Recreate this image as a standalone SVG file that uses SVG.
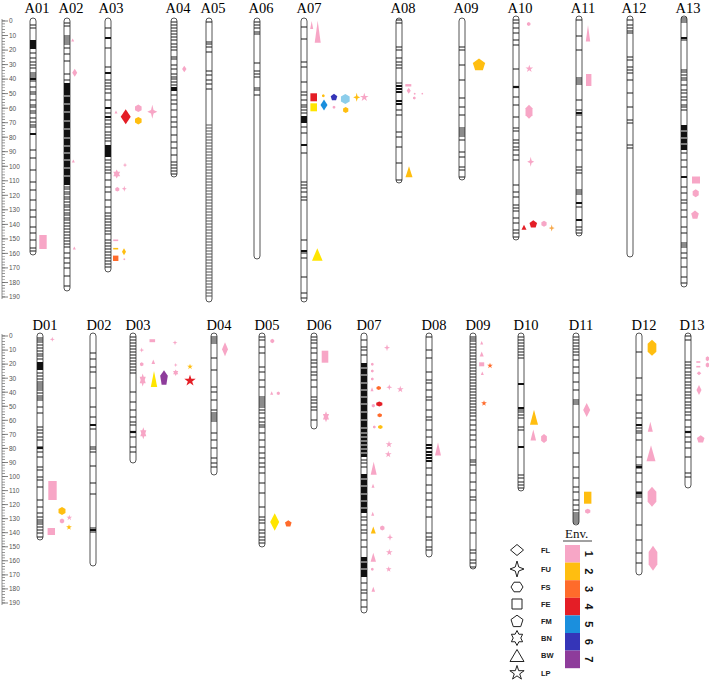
<svg xmlns="http://www.w3.org/2000/svg" xmlns:xlink="http://www.w3.org/1999/xlink" width="709" height="681" viewBox="0 0 709 681">
<style>
.ch{fill:#fff;stroke:#555;stroke-width:1}
.b{stroke:#1a1a1a;stroke-width:1.1;fill:none}
.g{stroke:#555;stroke-width:1.1;fill:none}
.t{stroke:#111;stroke-width:2.2;fill:none}
.w{stroke:#fff;stroke-width:0.9;fill:none}
.k{fill:#111}
.lb{font-family:"Liberation Serif",serif;font-size:14.5px;text-anchor:middle;fill:#000}
.ax{font-family:"Liberation Sans",sans-serif;font-size:6.5px;fill:#555}
.lg{font-family:"Liberation Sans",sans-serif;font-size:7.5px;font-weight:bold;fill:#222}
.num{font-family:"Liberation Sans",sans-serif;font-size:11px;font-weight:bold;fill:#111;text-anchor:middle}
.ol{fill:none;stroke:#222;stroke-width:1}
.c1{fill:#F7A6C6}.c2{fill:#FFBE10}.c3{fill:#FF6B2B}.c4{fill:#E41E26}.c5{fill:#1B8FDD}.c6{fill:#3535B8}.c7{fill:#8E3C9B}.cy{fill:#FFE500}.cl{fill:#8CCDEB}.co{fill:#F7A84A}
</style>
<defs>
<path id="dm" vector-effect="non-scaling-stroke" d="M0-1L1 0L0 1L-1 0Z"/>
<path id="fu" vector-effect="non-scaling-stroke" d="M0-1L0.25-0.25L1 0L0.25 0.25L0 1L-0.25 0.25L-1 0L-0.25-0.25Z"/>
<path id="hx" vector-effect="non-scaling-stroke" d="M0-1L0.87-0.5L0.87 0.5L0 1L-0.87 0.5L-0.87-0.5Z"/>
<path id="sq" vector-effect="non-scaling-stroke" d="M-1-1H1V1H-1Z"/>
<path id="pn" vector-effect="non-scaling-stroke" d="M0-1L0.95-0.31L0.59 0.81L-0.59 0.81L-0.95-0.31Z"/>
<path id="s6" vector-effect="non-scaling-stroke" d="M0-1L0.289-0.5L0.866-0.5L0.577 0L0.866 0.5L0.289 0.5L0 1L-0.289 0.5L-0.866 0.5L-0.577 0L-0.866-0.5L-0.289-0.5Z"/>
<path id="tr" vector-effect="non-scaling-stroke" d="M0-1L1 1L-1 1Z"/>
<path id="s5" vector-effect="non-scaling-stroke" d="M0-1L0.2245-0.309L0.951-0.309L0.363 0.118L0.588 0.809L0 0.382L-0.588 0.809L-0.363 0.118L-0.951-0.309L-0.2245-0.309Z"/>
</defs>
<rect width="709" height="681" fill="#fff"/>

<g id="axis-top">
<line x1="2" y1="19" x2="2" y2="299" stroke="#777" stroke-width="0.8"/>
<line x1="3.5" y1="20.6" x2="3.5" y2="298" stroke="#777" stroke-width="3" stroke-dasharray="0.7 2.205"/>
<path stroke="#666" stroke-width="0.8" d="M2 21h6M2 35.5h6M2 50.1h6M2 64.6h6M2 79.1h6M2 93.6h6M2 108.2h6M2 122.7h6M2 137.2h6M2 151.7h6M2 166.3h6M2 180.8h6M2 195.3h6M2 209.8h6M2 224.4h6M2 238.9h6M2 253.4h6M2 267.9h6M2 282.5h6M2 297h6"/>
<g class="ax">
<text x="9" y="23.3">0</text><text x="9" y="37.8">10</text><text x="9" y="52.4">20</text><text x="9" y="66.9">30</text><text x="9" y="81.4">40</text><text x="9" y="95.9">50</text><text x="9" y="110.5">60</text><text x="9" y="125">70</text><text x="9" y="139.5">80</text><text x="9" y="154">90</text><text x="9" y="168.6">100</text><text x="9" y="183.1">110</text><text x="9" y="197.6">120</text><text x="9" y="212.1">130</text><text x="9" y="226.7">140</text><text x="9" y="241.2">150</text><text x="9" y="255.7">160</text><text x="9" y="270.2">170</text><text x="9" y="284.8">180</text><text x="9" y="299.3">190</text>
</g>
</g>

<g id="axis-bottom">
<line x1="2" y1="334" x2="2" y2="605" stroke="#777" stroke-width="0.8"/>
<line x1="3.5" y1="335.6" x2="3.5" y2="604" stroke="#777" stroke-width="3" stroke-dasharray="0.7 2.11"/>
<path stroke="#666" stroke-width="0.8" d="M2 336h6M2 350.1h6M2 364.1h6M2 378.2h6M2 392.2h6M2 406.3h6M2 420.3h6M2 434.4h6M2 448.4h6M2 462.5h6M2 476.5h6M2 490.6h6M2 504.6h6M2 518.7h6M2 532.7h6M2 546.8h6M2 560.8h6M2 574.9h6M2 588.9h6M2 603h6"/>
<g class="ax">
<text x="9" y="338.3">0</text><text x="9" y="352.4">10</text><text x="9" y="366.4">20</text><text x="9" y="380.5">30</text><text x="9" y="394.5">40</text><text x="9" y="408.6">50</text><text x="9" y="422.6">60</text><text x="9" y="436.7">70</text><text x="9" y="450.7">80</text><text x="9" y="464.8">90</text><text x="9" y="478.8">100</text><text x="9" y="492.9">110</text><text x="9" y="506.9">120</text><text x="9" y="521">130</text><text x="9" y="535">140</text><text x="9" y="549.1">150</text><text x="9" y="563.1">160</text><text x="9" y="577.2">170</text><text x="9" y="591.2">180</text><text x="9" y="605.3">190</text>
</g>
</g>

<g id="A01">
<text class="lb" x="37" y="13">A01</text>
<rect class="ch" x="30" y="18" width="6" height="237" rx="3"/>
<rect class="k" x="30" y="40" width="6" height="9"/>
<path class="b" d="M30 25h6M30 28h6M30 53h6M30 58h6M30 62h6M30 65h6M30 68h6M30 73h6M30 75h6M30 77h6M30 81h6M30 87h6M30 92h6M30 94h6M30 100h6M30 105h6M30 107h6M30 111h6M30 113h6M30 118h6M30 122h6M30 125h6M30 127h6M30 150h6M30 158h6M30 170h6M30 182h6M30 190h6M30 200h6M30 210h6M30 217h6M30 227h6M30 233h6M30 240h6M30 248h6M30 251h6"/>
<path class="t" d="M30 79h6M30 134h6"/>
<use href="#sq" class="c1" transform="translate(43 242) scale(3.7 7)"/>
</g>

<g id="A02">
<text class="lb" x="71" y="13">A02</text>
<rect class="ch" x="64" y="18" width="6" height="273" rx="3"/>
<rect class="k" x="64" y="83" width="6" height="102"/>
<path class="w" d="M64 96h6M64 104h6M64 112h6M64 121h6M64 129h6M64 138h6M64 146h6M64 153h6M64 160h6M64 168h6M64 176h6"/>
<path class="b" d="M64 23h6M64 26h6M64 36h6M64 38h6M64 40h6M64 42h6M64 44h6M64 48h6M64 54h6M64 61h6M64 74h6M64 80h6M64 187h6M64 189h6M64 192h6M64 194h6M64 197h6M64 199h6M64 202h6M64 205h6M64 207h6M64 210h6M64 213h6M64 215h6M64 218h6M64 220h6M64 223h6M64 226h6M64 229h6M64 232h6M64 235h6M64 238h6M64 241h6M64 244h6M64 247h6M64 253h6M64 258h6M64 263h6M64 268h6M64 276h6M64 286h6"/>
<use href="#tr" class="c1" transform="translate(72.7 40) scale(1.5)"/>
<use href="#dm" class="c1" transform="translate(74.7 72.7) scale(2.5 4)"/>
<use href="#tr" class="c1" transform="translate(73.3 161) scale(1.5)"/>
<use href="#tr" class="c1" transform="translate(74.3 248) scale(1.5)"/>
</g>

<g id="A03">
<text class="lb" x="111" y="13">A03</text>
<rect class="ch" x="105" y="18" width="6" height="254" rx="3"/>
<rect class="k" x="105" y="145" width="6" height="12"/>
<path class="b" d="M105 28h6M105 48h6M105 67h6M105 80h6M105 83h6M105 86h6M105 89h6M105 93h6M105 100h6M105 113h6M105 120h6M105 124h6M105 127h6M105 132h6M105 135h6M105 138h6M105 141h6M105 160h6M105 163h6M105 167h6M105 170h6M105 173h6M105 180h6M105 187h6M105 192h6M105 200h6M105 207h6M105 213h6M105 216h6M105 219h6M105 222h6M105 225h6M105 228h6M105 231h6M105 234h6M105 240h6M105 243h6M105 246h6M105 249h6M105 252h6M105 255h6M105 258h6M105 261h6M105 264h6M105 267h6"/>
<path class="t" d="M105 38h6M105 73h6M105 108h6M105 117h6"/>
<use href="#tr" class="c1" transform="translate(116 112) scale(1.5)"/>
<use href="#dm" class="c4" transform="translate(125.7 116.7) scale(5 7.5)"/>
<use href="#hx" class="c1" transform="translate(138.3 108.3) scale(3.8)"/>
<use href="#hx" class="c2" transform="translate(138.3 120.7) scale(3.8)"/>
<use href="#fu" class="c1" transform="translate(152.3 111.7) scale(5 7)"/>
<use href="#fu" class="c1" transform="translate(125 165) scale(2.2 2.5)"/>
<use href="#s6" class="c1" transform="translate(116.7 174) scale(4 4.5)"/>
<use href="#hx" class="c1" transform="translate(117.3 189.3) scale(2.3)"/>
<use href="#fu" class="c1" transform="translate(124.3 188.7) scale(2.5 3)"/>
<use href="#sq" class="c1" transform="translate(115.7 240.3) scale(2.5 0.8)"/>
<use href="#sq" class="c2" transform="translate(115.7 248.7) scale(2.5 0.8)"/>
<use href="#dm" class="c2" transform="translate(124 251.7) scale(2 3.5)"/>
<use href="#sq" class="c3" transform="translate(115.7 258.3) scale(2.7)"/>
<use href="#hx" class="c1" transform="translate(124.3 259.3) scale(1)"/>
</g>

<g id="A04">
<text class="lb" x="178" y="13">A04</text>
<rect class="ch" x="171" y="18" width="6" height="159" rx="3"/>
<rect class="k" x="171" y="87" width="6" height="4"/>
<path class="b" d="M171 22h6M171 25h6M171 28h6M171 31h6M171 34h6M171 37h6M171 40h6M171 44h6M171 47h6M171 50h6M171 57h6M171 59h6M171 65h6M171 69h6M171 74h6M171 77h6M171 79h6M171 82h6M171 85h6M171 95h6M171 100h6M171 104h6M171 110h6M171 117h6M171 122h6M171 127h6M171 135h6M171 142h6M171 148h6M171 155h6M171 162h6M171 165h6M171 168h6M171 171h6M171 174h6"/>
<use href="#dm" class="c1" transform="translate(184.3 69) scale(2.2 3.2)"/>
</g>

<g id="A05">
<text class="lb" x="213" y="13">A05</text>
<rect class="ch" x="206" y="18" width="6" height="284" rx="3"/>
<path class="b" d="M206 22h6M206 42h6M206 44h6M206 47h6M206 52h6M206 71h6M206 75h6M206 80h6M206 84h6M206 89h6"/>
<path class="g" d="M206 125h6M206 128h6M206 131h6M206 134h6M206 137h6M206 140h6M206 143h6M206 146h6M206 149h6M206 152h6M206 155h6M206 158h6M206 161h6M206 164h6M206 167h6M206 170h6M206 173h6M206 176h6M206 179h6M206 182h6M206 185h6M206 188h6M206 191h6M206 194h6M206 197h6M206 200h6M206 203h6M206 206h6M206 209h6M206 212h6M206 215h6M206 218h6M206 221h6M206 224h6M206 227h6M206 230h6M206 233h6M206 236h6M206 239h6M206 242h6M206 245h6M206 248h6M206 251h6M206 254h6M206 257h6M206 260h6M206 263h6M206 266h6M206 269h6M206 272h6M206 275h6M206 278h6M206 281h6M206 284h6M206 287h6M206 290h6M206 293h6M206 296h6"/>
</g>

<g id="A06">
<text class="lb" x="261" y="13">A06</text>
<rect class="ch" x="254" y="18" width="6" height="241" rx="3"/>
<path class="b" d="M254 22h6M254 25h6M254 28h6M254 32h6M254 34h6M254 63h6M254 71h6M254 74h6M254 77h6M254 88h6M254 90h6M254 95h6"/>
</g>

<g id="A07">
<text class="lb" x="309" y="13">A07</text>
<rect class="ch" x="301" y="18" width="6" height="284" rx="3"/>
<rect class="k" x="301" y="116" width="6" height="7"/>
<path class="b" d="M301 27h6M301 39h6M301 62h6M301 67h6M301 82h6M301 92h6M301 95h6M301 100h6M301 105h6M301 107h6M301 110h6M301 113h6M301 127h6M301 133h6M301 153h6M301 182h6M301 185h6M301 188h6M301 192h6M301 197h6M301 200h6M301 240h6M301 253h6M301 258h6M301 277h6M301 293h6M301 298h6"/>
<path class="t" d="M301 145h6M301 251h6"/>
<use href="#tr" class="c1" transform="translate(311.7 25) scale(1.5 4)"/>
<use href="#tr" class="c1" transform="translate(317.7 31.7) scale(3 11)"/>
<use href="#sq" class="c4" transform="translate(313.7 97.3) scale(3.3 4)"/>
<use href="#sq" class="cy" transform="translate(313.7 107.3) scale(3.3 4)"/>
<use href="#hx" class="c2" transform="translate(323.3 95.7) scale(1.5)"/>
<use href="#dm" class="c5" transform="translate(324 105) scale(3.5 5.5)"/>
<use href="#pn" class="c6" transform="translate(334 97.3) scale(3.5)"/>
<use href="#hx" class="c1" transform="translate(334 107.3) scale(1.5)"/>
<use href="#hx" class="cl" transform="translate(345.3 99) scale(5)"/>
<use href="#hx" class="c2" transform="translate(345.7 110) scale(3)"/>
<use href="#fu" class="c2" transform="translate(356.7 97.3) scale(3.5 4.5)"/>
<use href="#s5" class="c1" transform="translate(364.3 97.3) scale(4.5)"/>
<use href="#tr" class="cy" transform="translate(317.3 254.5) scale(5.3 6.3)"/>
</g>

<g id="A08">
<text class="lb" x="403" y="13">A08</text>
<rect class="ch" x="396" y="18" width="6" height="165" rx="3"/>
<path class="b" d="M396 20h6M396 23h6M396 47h6M396 50h6M396 58h6M396 62h6M396 65h6M396 68h6M396 83h6M396 110h6M396 115h6M396 132h6M396 137h6M396 147h6M396 163h6M396 180h6"/>
<path class="t" d="M396 86h6M396 89h6M396 92h6M396 101h6M396 104h6"/>
<use href="#sq" class="c1" transform="translate(408.3 85.3) scale(3 1.2)"/>
<use href="#dm" class="c1" transform="translate(408.7 90.7) scale(2 3)"/>
<use href="#hx" class="c1" transform="translate(414.7 93.7) scale(1)"/>
<use href="#hx" class="c1" transform="translate(414.3 98) scale(1.5)"/>
<use href="#hx" class="c1" transform="translate(422.3 93.7) scale(0.9)"/>
<use href="#tr" class="c2" transform="translate(409 171.7) scale(3.5 5.5)"/>
</g>

<g id="A09">
<text class="lb" x="466" y="13">A09</text>
<rect class="ch" x="459" y="18" width="6" height="162" rx="3"/>
<path class="b" d="M459 47h6M459 50h6M459 65h6M459 80h6M459 98h6M459 107h6M459 115h6M459 128h6M459 130h6M459 132h6M459 134h6M459 136h6M459 140h6M459 152h6M459 157h6M459 167h6M459 170h6M459 177h6"/>
<use href="#pn" class="c2" transform="translate(479 65) scale(6.5)"/>
</g>

<g id="A10">
<text class="lb" x="520" y="13">A10</text>
<rect class="ch" x="513" y="16" width="6" height="224" rx="3"/>
<path class="b" d="M513 20h6M513 23h6M513 28h6M513 33h6M513 40h6M513 45h6M513 69h6M513 97h6M513 105h6M513 117h6M513 128h6M513 131h6M513 140h6M513 143h6M513 147h6M513 150h6M513 155h6M513 160h6M513 185h6M513 192h6M513 197h6M513 205h6M513 208h6M513 211h6M513 218h6M513 223h6M513 230h6M513 233h6M513 237h6"/>
<path class="t" d="M513 87h6"/>
<use href="#hx" class="c1" transform="translate(528.7 24) scale(2)"/>
<use href="#s5" class="c1" transform="translate(529.3 68.7) scale(4)"/>
<use href="#hx" class="c1" transform="translate(529 111.7) scale(4 7)"/>
<use href="#fu" class="c1" transform="translate(530.7 161.7) scale(3.5 5)"/>
<use href="#tr" class="c4" transform="translate(524 227.3) scale(2.5)"/>
<use href="#pn" class="c4" transform="translate(533.3 224.3) scale(4)"/>
<use href="#hx" class="c1" transform="translate(544 223.7) scale(3)"/>
<use href="#fu" class="co" transform="translate(551.7 228) scale(3 3.5)"/>
</g>

<g id="A11">
<text class="lb" x="583" y="13">A11</text>
<rect class="ch" x="576" y="16" width="6" height="220" rx="3"/>
<path class="b" d="M576 20h6M576 36h6M576 50h6M576 78h6M576 80h6M576 82h6M576 84h6M576 100h6M576 110h6M576 115h6M576 127h6M576 133h6M576 140h6M576 150h6M576 167h6M576 170h6M576 173h6M576 190h6M576 192h6M576 194h6M576 207h6M576 227h6M576 230h6M576 233h6"/>
<path class="t" d="M576 113h6M576 203h6M576 220h6"/>
<use href="#tr" class="c1" transform="translate(588 33.3) scale(2.2 8.3)"/>
<use href="#sq" class="c1" transform="translate(588.7 80) scale(2.7 6)"/>
</g>

<g id="A12">
<text class="lb" x="634" y="13">A12</text>
<rect class="ch" x="627" y="16" width="6" height="241" rx="3"/>
<path class="b" d="M627 20h6M627 25h6M627 28h6M627 31h6M627 33h6M627 57h6M627 60h6M627 67h6M627 70h6M627 73h6M627 80h6M627 93h6M627 107h6M627 120h6M627 123h6M627 145h6M627 148h6"/>
</g>

<g id="A13">
<text class="lb" x="688" y="13">A13</text>
<rect class="ch" x="681" y="16" width="6" height="271" rx="3"/>
<rect class="k" x="681" y="125" width="6" height="25"/>
<path class="w" d="M681 131h6M681 138h6M681 144h6"/>
<path class="b" d="M681 18h6M681 20h6M681 22h6M681 40h6M681 70h6M681 72h6M681 75h6M681 78h6M681 80h6M681 85h6M681 90h6M681 93h6M681 97h6M681 100h6M681 105h6M681 107h6M681 110h6M681 153h6M681 160h6M681 167h6M681 187h6M681 193h6M681 200h6M681 203h6M681 210h6M681 217h6M681 227h6M681 233h6M681 243h6M681 245h6M681 247h6M681 253h6M681 258h6M681 267h6M681 277h6M681 283h6"/>
<path class="t" d="M681 38h6M681 177h6"/>
<use href="#sq" class="c1" transform="translate(696 180) scale(4 3.5)"/>
<use href="#hx" class="c1" transform="translate(695.7 193.3) scale(3.5 4)"/>
<use href="#pn" class="c1" transform="translate(695 215) scale(4 4.5)"/>
</g>

<g id="D01">
<text class="lb" x="45" y="330">D01</text>
<rect class="ch" x="37" y="333" width="6" height="207" rx="3"/>
<rect class="k" x="37" y="362" width="6" height="8"/>
<path class="b" d="M37 338h6M37 340h6M37 342h6M37 345h6M37 348h6M37 351h6M37 354h6M37 356h6M37 359h6M37 373h6M37 376h6M37 379h6M37 382h6M37 384h6M37 386h6M37 388h6M37 390h6M37 393h6M37 396h6M37 398h6M37 400h6M37 407h6M37 413h6M37 427h6M37 430h6M37 433h6M37 437h6M37 440h6M37 447h6M37 452h6M37 457h6M37 467h6M37 470h6M37 477h6M37 480h6M37 487h6M37 500h6M37 507h6M37 513h6M37 517h6M37 520h6M37 522h6M37 524h6M37 527h6M37 530h6M37 533h6M37 537h6"/>
<path class="t" d="M37 448h6"/>
<use href="#fu" class="c1" transform="translate(52.3 339.3) scale(2.5)"/>
<use href="#sq" class="c1" transform="translate(52.5 490.5) scale(4.2 9.5)"/>
<use href="#sq" class="c1" transform="translate(51.3 531.5) scale(3.7 3.5)"/>
<use href="#hx" class="c2" transform="translate(62 511) scale(4)"/>
<use href="#hx" class="c1" transform="translate(62 521) scale(2.5)"/>
<use href="#s5" class="c1" transform="translate(69.3 517.7) scale(3)"/>
<use href="#s5" class="c2" transform="translate(69 527.3) scale(3)"/>
</g>

<g id="D02">
<text class="lb" x="99" y="330">D02</text>
<rect class="ch" x="90" y="333" width="6" height="233" rx="3"/>
<path class="b" d="M90 353h6M90 359h6M90 367h6M90 372h6M90 388h6M90 407h6M90 417h6M90 429h6M90 447h6M90 449h6M90 452h6M90 466h6M90 483h6M90 494h6M90 528h6M90 532h6"/>
<path class="t" d="M90 425h6M90 530h6"/>
</g>

<g id="D03">
<text class="lb" x="138" y="330">D03</text>
<rect class="ch" x="130" y="333" width="6" height="130" rx="3"/>
<path class="b" d="M130 337h6M130 340h6M130 343h6M130 346h6M130 349h6M130 352h6M130 355h6M130 358h6M130 361h6M130 364h6M130 367h6M130 370h6M130 373h6M130 392h6M130 402h6M130 410h6M130 417h6M130 422h6M130 425h6M130 437h6M130 447h6M130 452h6"/>
<path class="t" d="M130 432h6"/>
<use href="#fu" class="c1" transform="translate(141.7 350) scale(2.5)"/>
<use href="#sq" class="c1" transform="translate(152.3 340.7) scale(2.8 1.5)"/>
<use href="#hx" class="c1" transform="translate(141.7 364.3) scale(2)"/>
<use href="#tr" class="c1" transform="translate(153.3 361.7) scale(1.8 2.2)"/>
<use href="#fu" class="c1" transform="translate(175 342.7) scale(2.5)"/>
<use href="#fu" class="c1" transform="translate(175.7 365) scale(2)"/>
<use href="#s6" class="c1" transform="translate(175.7 372.7) scale(3 3.3)"/>
<use href="#s6" class="c1" transform="translate(142.7 380) scale(3.5 6.5)"/>
<use href="#tr" class="cy" transform="translate(154 379) scale(3.2 8)"/>
<use href="#pn" class="c7" transform="translate(164 378.3) scale(4 8)"/>
<use href="#s6" class="c1" transform="translate(143.3 433.3) scale(3.5 6)"/>
<use href="#s5" class="c2" transform="translate(190 366.7) scale(3)"/>
<use href="#s5" class="c4" transform="translate(190 380.7) scale(6)"/>
</g>

<g id="D04">
<text class="lb" x="219" y="330">D04</text>
<rect class="ch" x="211" y="333" width="6" height="142" rx="3"/>
<path class="b" d="M211 337h6M211 339h6M211 341h6M211 343h6M211 358h6M211 370h6M211 387h6M211 392h6M211 400h6M211 410h6M211 413h6M211 415h6M211 417h6M211 419h6M211 421h6M211 433h6M211 440h6M211 448h6M211 458h6M211 463h6M211 467h6"/>
<use href="#dm" class="c1" transform="translate(225 349.3) scale(3 7)"/>
</g>

<g id="D05">
<text class="lb" x="267" y="330">D05</text>
<rect class="ch" x="259" y="333" width="6" height="214" rx="3"/>
<path class="b" d="M259 337h6M259 340h6M259 347h6M259 353h6M259 367h6M259 372h6M259 380h6M259 387h6M259 397h6M259 399h6M259 401h6M259 403h6M259 405h6M259 407h6M259 410h6M259 413h6M259 418h6M259 422h6M259 425h6M259 427h6M259 433h6M259 440h6M259 447h6M259 453h6M259 458h6M259 463h6M259 467h6M259 473h6M259 483h6M259 493h6M259 507h6M259 517h6M259 520h6M259 523h6M259 530h6M259 533h6M259 537h6M259 540h6M259 543h6"/>
<use href="#hx" class="c1" transform="translate(272.3 341) scale(2.2)"/>
<use href="#tr" class="c1" transform="translate(271.7 393) scale(1.5 1.8)"/>
<use href="#hx" class="c1" transform="translate(278.3 393.3) scale(1.8)"/>
<use href="#dm" class="cy" transform="translate(274.7 522) scale(4.5 8.8)"/>
<use href="#pn" class="c3" transform="translate(288.3 523.7) scale(3.5)"/>
</g>

<g id="D06">
<text class="lb" x="319" y="330">D06</text>
<rect class="ch" x="311" y="333" width="6" height="96" rx="3"/>
<path class="b" d="M311 337h6M311 340h6M311 343h6M311 348h6M311 353h6M311 360h6M311 363h6M311 367h6M311 372h6M311 375h6M311 380h6M311 387h6M311 397h6M311 400h6M311 403h6M311 407h6M311 410h6M311 420h6"/>
<use href="#sq" class="c1" transform="translate(325 356.7) scale(3.3 6)"/>
<use href="#s6" class="c1" transform="translate(326 416.7) scale(3.5 5.5)"/>
</g>

<g id="D07">
<text class="lb" x="369" y="330">D07</text>
<rect class="ch" x="361" y="333" width="6" height="280" rx="3"/>
<rect class="k" x="361" y="363" width="6" height="94"/>
<rect class="k" x="361" y="474" width="6" height="39"/>
<rect class="k" x="361" y="557" width="6" height="20"/>
<path class="w" d="M361 368h6M361 375h6M361 383h6M361 390h6M361 397h6M361 404h6M361 412h6M361 420h6M361 428h6M361 433h6M361 437h6M361 441h6M361 445h6M361 449h6M361 453h6M361 479h6M361 486h6M361 494h6M361 501h6M361 508h6M361 562h6M361 569h6"/>
<path class="b" d="M361 340h6M361 347h6M361 350h6M361 355h6M361 460h6M361 463h6M361 467h6M361 517h6M361 520h6M361 525h6M361 530h6M361 533h6M361 540h6M361 547h6M361 583h6M361 590h6M361 593h6M361 600h6M361 607h6"/>
<use href="#fu" class="c1" transform="translate(387 347.7) scale(3 3.5)"/>
<use href="#hx" class="c1" transform="translate(372.3 364.3) scale(1.5)"/>
<use href="#hx" class="c1" transform="translate(372.3 371) scale(1.5)"/>
<use href="#hx" class="c1" transform="translate(372.3 379) scale(1.5)"/>
<use href="#tr" class="c1" transform="translate(372 389.3) scale(1.5 2)"/>
<use href="#hx" class="c3" transform="translate(378.7 388) scale(2.5 2)"/>
<use href="#fu" class="c1" transform="translate(389.3 387.3) scale(3)"/>
<use href="#s5" class="c1" transform="translate(400.3 389.3) scale(3.5)"/>
<use href="#hx" class="c1" transform="translate(373.3 405.7) scale(1.8)"/>
<use href="#hx" class="c4" transform="translate(379.3 404) scale(3.5 2.5)"/>
<use href="#hx" class="c3" transform="translate(379.7 415.3) scale(2.5 2)"/>
<use href="#hx" class="c1" transform="translate(374.3 427) scale(1.5)"/>
<use href="#hx" class="c2" transform="translate(380.3 427) scale(2.5 2)"/>
<use href="#s5" class="c1" transform="translate(389 444.3) scale(3.5)"/>
<use href="#s5" class="c1" transform="translate(388.3 454.3) scale(3.5)"/>
<use href="#tr" class="c1" transform="translate(373.7 468.3) scale(3 6.5)"/>
<use href="#tr" class="c1" transform="translate(373 485.7) scale(1.5 2)"/>
<use href="#tr" class="c1" transform="translate(372.7 513.7) scale(1.5 2)"/>
<use href="#tr" class="c2" transform="translate(373.3 530) scale(2.5 3.5)"/>
<use href="#hx" class="c1" transform="translate(382.3 528) scale(2.5)"/>
<use href="#fu" class="c1" transform="translate(390 537.3) scale(3 3.5)"/>
<use href="#s5" class="c1" transform="translate(389.3 552.3) scale(3.5)"/>
<use href="#tr" class="c1" transform="translate(373.3 557.3) scale(2.7 4.5)"/>
<use href="#hx" class="c1" transform="translate(372.3 569.3) scale(1.5)"/>
<use href="#s5" class="c1" transform="translate(388.7 569.3) scale(3)"/>
<use href="#tr" class="c1" transform="translate(373.3 589.3) scale(1.8 2.5)"/>
</g>

<g id="D08">
<text class="lb" x="434" y="330">D08</text>
<rect class="ch" x="426" y="333" width="6" height="224" rx="3"/>
<path class="b" d="M426 337h6M426 350h6M426 358h6M426 372h6M426 380h6M426 383h6M426 390h6M426 397h6M426 400h6M426 410h6M426 417h6M426 420h6M426 430h6M426 437h6M426 468h6M426 475h6M426 485h6M426 493h6M426 500h6M426 507h6M426 517h6M426 533h6M426 537h6M426 540h6M426 547h6M426 550h6"/>
<path class="t" d="M426 445h6M426 448h6M426 452h6M426 455h6M426 458h6M426 461h6"/>
<use href="#tr" class="c1" transform="translate(438 449) scale(3 6.5)"/>
</g>

<g id="D09">
<text class="lb" x="478" y="330">D09</text>
<rect class="ch" x="470" y="333" width="6" height="236" rx="3"/>
<path class="b" d="M470 337h6M470 339h6M470 341h6M470 344h6M470 347h6M470 350h6M470 353h6M470 356h6M470 359h6M470 362h6M470 365h6M470 368h6M470 371h6M470 374h6M470 377h6M470 380h6M470 383h6M470 386h6M470 389h6M470 392h6M470 395h6M470 398h6M470 401h6M470 404h6M470 407h6M470 410h6M470 413h6M470 416h6M470 420h6M470 425h6M470 430h6M470 435h6M470 440h6M470 447h6M470 460h6M470 462h6M470 465h6M470 473h6M470 482h6M470 490h6M470 497h6M470 500h6M470 513h6M470 520h6M470 533h6M470 550h6M470 553h6M470 560h6M470 563h6M470 567h6"/>
<use href="#tr" class="c1" transform="translate(481.7 342.7) scale(1.5 1.8)"/>
<use href="#tr" class="c1" transform="translate(481.7 354) scale(2 2.5)"/>
<use href="#sq" class="c1" transform="translate(481.7 364.3) scale(2.5 2)"/>
<use href="#s5" class="c3" transform="translate(490 365.7) scale(3)"/>
<use href="#tr" class="c1" transform="translate(482.3 373.3) scale(1.5 1.8)"/>
<use href="#s5" class="c3" transform="translate(484 403.3) scale(3)"/>
</g>

<g id="D10">
<text class="lb" x="526" y="330">D10</text>
<rect class="ch" x="518" y="333" width="6" height="158" rx="3"/>
<path class="b" d="M518 337h6M518 340h6M518 343h6M518 346h6M518 349h6M518 352h6M518 355h6M518 358h6M518 410h6M518 412h6M518 415h6M518 418h6M518 427h6M518 430h6M518 475h6M518 478h6M518 482h6M518 485h6M518 488h6"/>
<path class="t" d="M518 384h6M518 408h6M518 447h6"/>
<use href="#tr" class="c2" transform="translate(534 417.3) scale(4 7.5)"/>
<use href="#tr" class="c1" transform="translate(533.3 435) scale(2.8 5.5)"/>
<use href="#hx" class="c1" transform="translate(544 438.5) scale(3.3 4.5)"/>
</g>

<g id="D11">
<text class="lb" x="581" y="330">D11</text>
<rect class="ch" x="573" y="333" width="6" height="192" rx="3"/>
<path class="b" d="M573 337h6M573 340h6M573 343h6M573 346h6M573 349h6M573 352h6M573 355h6M573 360h6M573 367h6M573 373h6M573 382h6M573 390h6M573 400h6M573 402h6M573 404h6M573 427h6M573 437h6M573 453h6M573 467h6M573 478h6M573 487h6M573 492h6M573 500h6M573 505h6M573 510h6M573 513h6M573 515h6M573 517h6M573 519h6M573 521h6M573 523h6"/>
<use href="#dm" class="c1" transform="translate(586.7 410) scale(3.5 7)"/>
<use href="#sq" class="c2" transform="translate(587.7 497.7) scale(3.7 6)"/>
<use href="#hx" class="c1" transform="translate(587.7 511.3) scale(3 2.5)"/>
</g>

<g id="D12">
<text class="lb" x="644" y="330">D12</text>
<rect class="ch" x="636" y="333" width="6" height="242" rx="3"/>
<path class="b" d="M636 352h6M636 378h6M636 395h6M636 400h6M636 413h6M636 418h6M636 428h6M636 431h6M636 433h6M636 440h6M636 457h6M636 465h6M636 468h6M636 473h6M636 482h6M636 492h6M636 495h6M636 497h6M636 503h6M636 525h6M636 540h6M636 553h6M636 563h6"/>
<path class="t" d="M636 425h6M636 467h6M636 493h6"/>
<use href="#hx" class="c2" transform="translate(652 347.7) scale(5 8)"/>
<use href="#tr" class="c1" transform="translate(650.3 426.7) scale(2.5 5)"/>
<use href="#tr" class="c1" transform="translate(651 453.3) scale(4.5 8)"/>
<use href="#hx" class="c1" transform="translate(652 496.7) scale(5 10)"/>
<use href="#hx" class="c1" transform="translate(653 558.3) scale(5 12.5)"/>
</g>

<g id="D13">
<text class="lb" x="692" y="330">D13</text>
<rect class="ch" x="685" y="333" width="6" height="155" rx="3"/>
<path class="b" d="M685 336h6M685 340h6M685 362h6M685 365h6M685 368h6M685 372h6M685 375h6M685 378h6M685 382h6M685 385h6M685 388h6M685 392h6M685 395h6M685 398h6M685 402h6M685 405h6M685 408h6M685 412h6M685 415h6M685 420h6M685 427h6M685 437h6M685 442h6M685 448h6M685 457h6M685 473h6M685 477h6"/>
<path class="t" d="M685 432h6"/>
<use href="#sq" class="c1" transform="translate(698.3 362) scale(2 0.8)"/>
<use href="#sq" class="c1" transform="translate(698.3 366.7) scale(2 0.8)"/>
<use href="#dm" class="c1" transform="translate(699 373.3) scale(2.3 2)"/>
<use href="#hx" class="c1" transform="translate(707.5 358.7) scale(2 2.5)"/>
<use href="#hx" class="c1" transform="translate(707.5 365) scale(2 2.5)"/>
<use href="#dm" class="c1" transform="translate(699 390) scale(2.5 5)"/>
<use href="#pn" class="c1" transform="translate(700.7 439.3) scale(4)"/>
</g>

<g id="legend">
<use href="#dm" class="ol" transform="translate(517 550) scale(6.5 5.5)"/>
<use href="#fu" class="ol" transform="translate(517 569) scale(7 8)"/>
<use href="#hx" class="ol" transform="translate(517 587) rotate(90) scale(5.5 6)"/>
<use href="#sq" class="ol" transform="translate(517 604) scale(5)"/>
<use href="#pn" class="ol" transform="translate(517 621.5) scale(6.3)"/>
<use href="#s6" class="ol" transform="translate(517 638) scale(6.5 7.5)"/>
<use href="#tr" class="ol" transform="translate(517 655.5) scale(7 6)"/>
<use href="#s5" class="ol" transform="translate(517 673) scale(7.5)"/>
<text class="lg" x="541" y="553">FL</text>
<text class="lg" x="541" y="572">FU</text>
<text class="lg" x="541" y="590">FS</text>
<text class="lg" x="541" y="607">FE</text>
<text class="lg" x="541" y="624">FM</text>
<text class="lg" x="541" y="641">BN</text>
<text class="lg" x="541" y="658">BW</text>
<text class="lg" x="541" y="676">LP</text>
<text x="565" y="538" font-family="Liberation Serif, serif" font-size="13" fill="#111">Env.</text>
<line x1="563" y1="541" x2="592" y2="541" stroke="#111" stroke-width="0.8"/>
<rect x="565" y="545" width="15" height="17.6" class="c1"/>
<rect x="565" y="562.6" width="15" height="17.6" class="c2"/>
<rect x="565" y="580.2" width="15" height="17.6" class="c3"/>
<rect x="565" y="597.8" width="15" height="17.6" class="c4"/>
<rect x="565" y="615.4" width="15" height="17.6" class="c5"/>
<rect x="565" y="633" width="15" height="17.6" class="c6"/>
<rect x="565" y="650.6" width="15" height="17.6" class="c7"/>
<text class="num" transform="translate(589 553.8) rotate(90)" dy="0.35em">1</text>
<text class="num" transform="translate(589 571.4) rotate(90)" dy="0.35em">2</text>
<text class="num" transform="translate(589 589) rotate(90)" dy="0.35em">3</text>
<text class="num" transform="translate(589 606.6) rotate(90)" dy="0.35em">4</text>
<text class="num" transform="translate(589 624.2) rotate(90)" dy="0.35em">5</text>
<text class="num" transform="translate(589 641.8) rotate(90)" dy="0.35em">6</text>
<text class="num" transform="translate(589 659.4) rotate(90)" dy="0.35em">7</text>
</g>
</svg>
